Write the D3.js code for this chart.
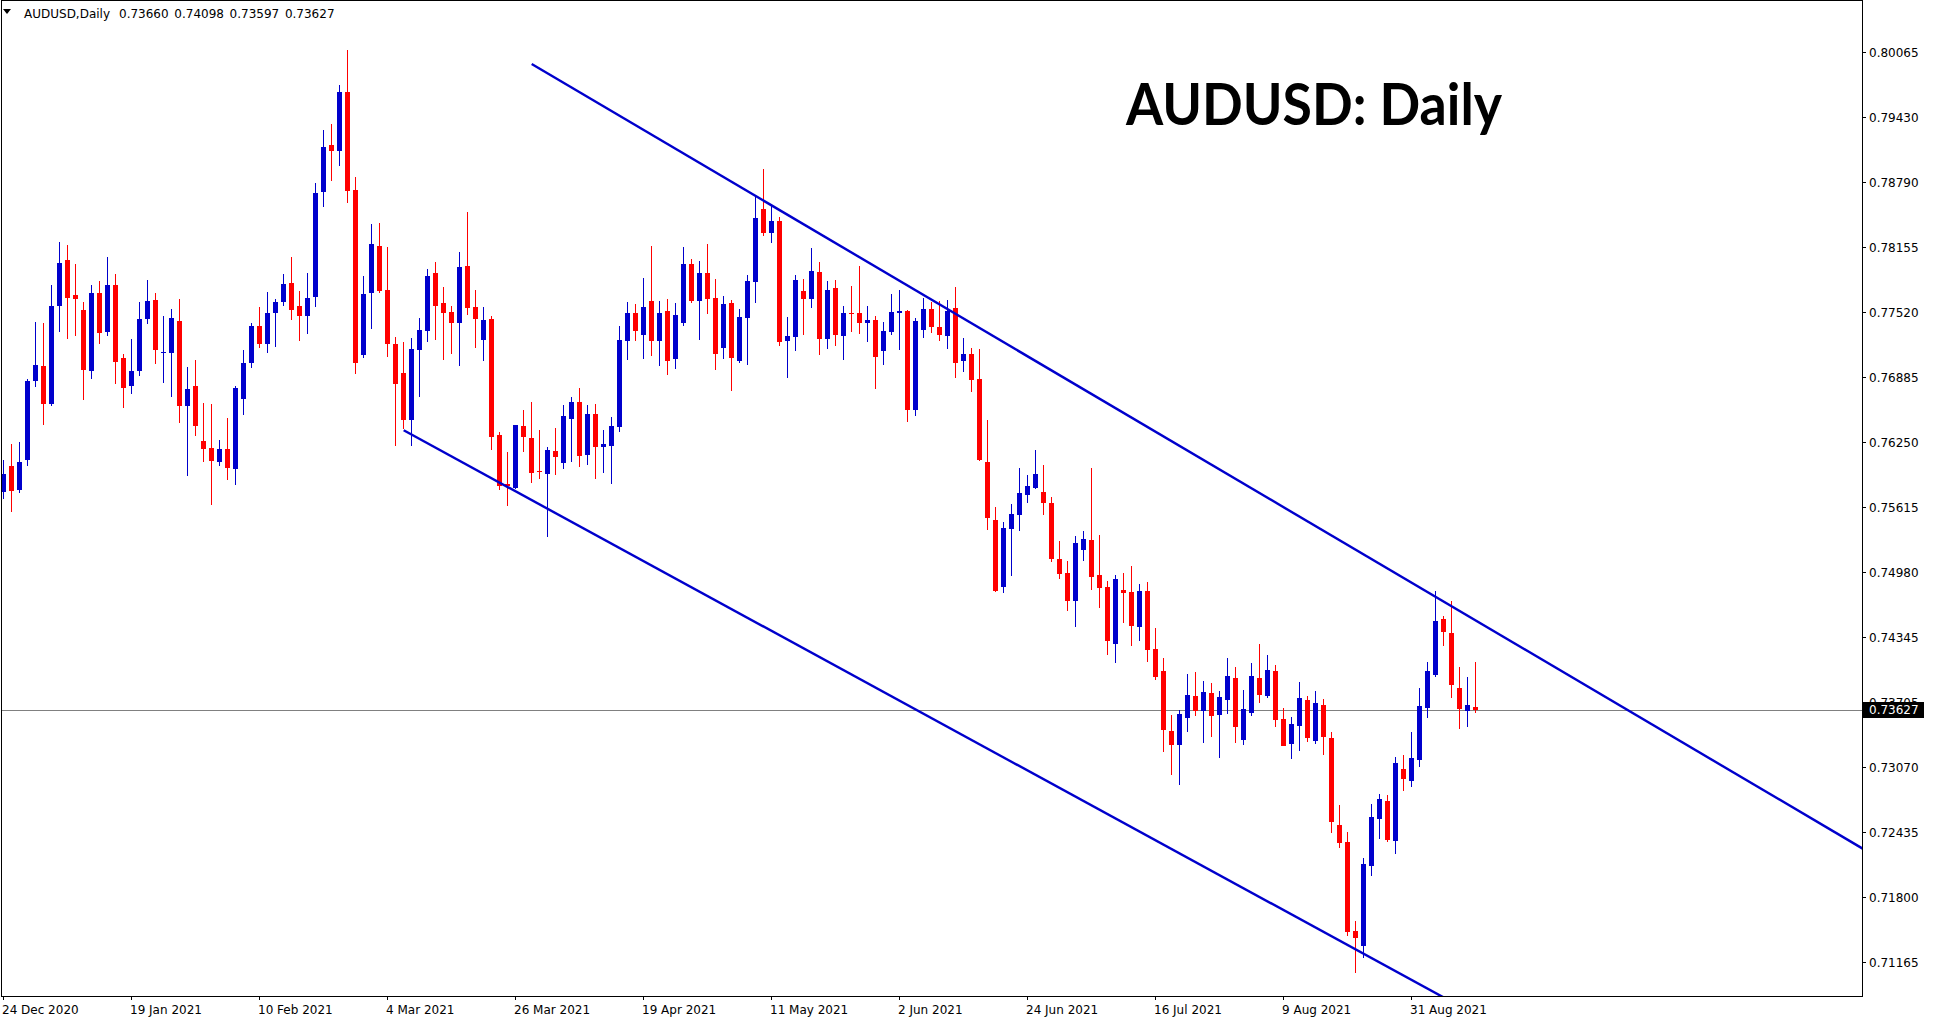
<!DOCTYPE html>
<html><head><meta charset="utf-8">
<script src="https://cdn.jsdelivr.net/npm/d3@7"></script>
<style>html,body{margin:0;padding:0;background:#fff;overflow:hidden}svg{display:block}</style>
</head><body>
<svg id="chart" width="1933" height="1023"></svg>
<script>
// ---------- data ----------
const symbolLabel = "AUDUSD,Daily";
const headerValues = ["0.73660", "0.74098", "0.73597", "0.73627"];
const title = "AUDUSD: Daily";
const currentPrice = 0.73627;

const open = [0.75765,0.76016,0.75784,0.76078,0.76850,0.76994,0.76625,0.77584,0.78030,0.77688,0.77541,0.76948,0.77708,0.77329,0.77786,0.77072,0.76801,0.76948,0.77457,0.77639,0.77124,0.77124,0.77434,0.76606,0.76798,0.76260,0.76192,0.76058,0.76182,0.75990,0.76674,0.77026,0.77385,0.77212,0.77515,0.77623,0.77805,0.77581,0.77486,0.77672,0.78699,0.79155,0.79099,0.79672,0.78715,0.77105,0.77712,0.78167,0.77737,0.77210,0.76927,0.76469,0.77154,0.77335,0.77905,0.77611,0.77520,0.77419,0.77971,0.77569,0.77251,0.77454,0.76319,0.75837,0.75805,0.76406,0.76291,0.75966,0.75942,0.76162,0.76050,0.76479,0.76640,0.76127,0.76525,0.76204,0.76214,0.76399,0.77241,0.77513,0.77300,0.77630,0.77239,0.77532,0.77063,0.77415,0.77992,0.77630,0.77904,0.77660,0.77171,0.77611,0.77043,0.77464,0.77816,0.78530,0.78295,0.78413,0.77239,0.77278,0.77728,0.77650,0.77914,0.77259,0.77757,0.77288,0.77513,0.77513,0.77415,0.77444,0.77141,0.77327,0.77513,0.77532,0.76564,0.77347,0.77552,0.77376,0.77288,0.77562,0.77043,0.77112,0.76867,0.76056,0.75488,0.74833,0.75400,0.75537,0.75733,0.75801,0.75762,0.75655,0.75107,0.74970,0.74696,0.75194,0.75292,0.74950,0.74833,0.74275,0.74803,0.74784,0.74441,0.74793,0.74226,0.74011,0.73424,0.73287,0.73551,0.73767,0.73620,0.73796,0.73581,0.73727,0.73943,0.73336,0.73600,0.73943,0.73767,0.74011,0.73542,0.73297,0.73473,0.73727,0.73326,0.73679,0.73356,0.72505,0.72339,0.71468,0.71322,0.72104,0.72564,0.72740,0.72348,0.73053,0.72935,0.73141,0.73649,0.73972,0.74520,0.74383,0.73845,0.73620,0.73660];
const high = [0.76074,0.76231,0.76250,0.76867,0.77424,0.77414,0.77786,0.78206,0.78177,0.77991,0.77620,0.77786,0.77825,0.78060,0.77893,0.77111,0.77258,0.77620,0.77835,0.77708,0.77483,0.77551,0.77649,0.76984,0.77052,0.76632,0.76622,0.76270,0.76485,0.76798,0.77150,0.77414,0.77571,0.77717,0.77649,0.77893,0.78060,0.77727,0.77903,0.78783,0.79302,0.79361,0.79742,0.80084,0.78841,0.77873,0.78383,0.78394,0.78156,0.77279,0.77227,0.77269,0.77464,0.77943,0.78009,0.77765,0.77580,0.78107,0.78498,0.77737,0.77569,0.77485,0.76350,0.76151,0.76417,0.76563,0.76640,0.76371,0.76204,0.76392,0.76612,0.76689,0.76780,0.76612,0.76623,0.76371,0.76497,0.77384,0.77618,0.77601,0.77859,0.78168,0.77630,0.77650,0.77611,0.78158,0.78041,0.78021,0.78188,0.77845,0.77679,0.77640,0.77552,0.77884,0.78647,0.78921,0.78579,0.78452,0.77474,0.77884,0.77845,0.78149,0.78012,0.77826,0.77836,0.77581,0.77777,0.77973,0.77581,0.77484,0.77425,0.77699,0.77738,0.77542,0.77464,0.77660,0.77620,0.77630,0.77640,0.77767,0.77268,0.77171,0.77161,0.76466,0.75616,0.75469,0.75645,0.75997,0.75929,0.76173,0.76026,0.75713,0.75283,0.75087,0.75331,0.75380,0.75996,0.75341,0.74891,0.74950,0.74970,0.75038,0.74862,0.74881,0.74432,0.74138,0.73581,0.73630,0.73982,0.74001,0.73913,0.73894,0.73815,0.74138,0.74050,0.73825,0.74089,0.74275,0.74168,0.74070,0.73649,0.73561,0.73903,0.73767,0.73815,0.73737,0.73414,0.72701,0.72436,0.71566,0.72182,0.72710,0.72808,0.72798,0.73170,0.73190,0.73414,0.73845,0.74099,0.74793,0.74549,0.74696,0.74050,0.73952,0.74098];
const low = [0.75690,0.75569,0.75755,0.76019,0.76792,0.76420,0.76606,0.77326,0.77261,0.77290,0.76664,0.76870,0.77212,0.77290,0.76821,0.76586,0.76723,0.76899,0.77408,0.77016,0.76831,0.76694,0.76440,0.75921,0.76312,0.76058,0.75638,0.76019,0.75882,0.75833,0.76518,0.76977,0.77173,0.77124,0.77183,0.77584,0.77447,0.77241,0.77310,0.77574,0.78552,0.78802,0.78952,0.78593,0.76916,0.77077,0.77360,0.77709,0.77084,0.76214,0.76375,0.76214,0.76686,0.77230,0.77251,0.77056,0.77115,0.76996,0.77496,0.77174,0.77045,0.76175,0.75784,0.75627,0.75795,0.76155,0.75854,0.75886,0.75320,0.75931,0.75983,0.76057,0.76008,0.76029,0.75886,0.75952,0.75844,0.76350,0.77056,0.77241,0.77066,0.77096,0.76998,0.76910,0.76965,0.77389,0.77611,0.77249,0.77503,0.76955,0.77063,0.76753,0.77024,0.77004,0.77611,0.78266,0.78197,0.77190,0.76877,0.77141,0.77298,0.77562,0.77102,0.77161,0.77190,0.77053,0.77327,0.77308,0.77229,0.76770,0.77004,0.77298,0.77151,0.76447,0.76506,0.77268,0.77317,0.77239,0.77161,0.76877,0.76936,0.76740,0.76065,0.75391,0.74784,0.74775,0.74941,0.75381,0.75655,0.75792,0.75537,0.75078,0.74911,0.74598,0.74441,0.75087,0.74803,0.74627,0.74168,0.74089,0.74480,0.74256,0.74304,0.74099,0.73923,0.73219,0.72994,0.72896,0.73414,0.73571,0.73307,0.73366,0.73160,0.73590,0.73307,0.73287,0.73571,0.73698,0.73747,0.73465,0.73278,0.73150,0.73229,0.73317,0.73297,0.73190,0.72427,0.72280,0.71419,0.71058,0.71204,0.72006,0.72368,0.72339,0.72221,0.72837,0.72876,0.73072,0.73551,0.73952,0.74256,0.73747,0.73444,0.73463,0.73597];
const close = [0.75938,0.75774,0.76055,0.76847,0.77004,0.76625,0.77581,0.78001,0.77662,0.77652,0.76958,0.77708,0.77320,0.77786,0.77036,0.76782,0.76945,0.77453,0.77629,0.77153,0.77131,0.77463,0.76606,0.76769,0.76410,0.76185,0.76068,0.76182,0.75999,0.76779,0.77023,0.77385,0.77212,0.77512,0.77620,0.77796,0.77545,0.77486,0.77659,0.78686,0.79136,0.79099,0.79672,0.78708,0.77028,0.77698,0.78188,0.77726,0.77213,0.76822,0.76469,0.77161,0.77346,0.77873,0.77583,0.77517,0.77419,0.77960,0.77566,0.77457,0.77443,0.76301,0.75823,0.75816,0.76417,0.76301,0.75952,0.75959,0.76172,0.76106,0.76504,0.76640,0.76116,0.76525,0.76200,0.76231,0.76406,0.77248,0.77513,0.77339,0.77569,0.77239,0.77513,0.77043,0.77493,0.77992,0.77630,0.77904,0.77650,0.77112,0.77601,0.77073,0.77474,0.77826,0.78442,0.78295,0.78413,0.77229,0.77288,0.77836,0.77650,0.77924,0.77259,0.77738,0.77298,0.77513,0.77506,0.77415,0.77444,0.77083,0.77337,0.77523,0.77532,0.76564,0.77435,0.77552,0.77376,0.77298,0.77532,0.77024,0.77112,0.76858,0.76075,0.75508,0.74794,0.75410,0.75547,0.75753,0.75821,0.75938,0.75655,0.75107,0.74960,0.74696,0.75263,0.75302,0.74930,0.74823,0.74304,0.74911,0.74774,0.74451,0.74793,0.74216,0.73952,0.73434,0.73287,0.73590,0.73776,0.73620,0.73806,0.73571,0.73757,0.73962,0.73463,0.73639,0.73962,0.73776,0.74021,0.73532,0.73278,0.73493,0.73747,0.73356,0.73698,0.73366,0.72534,0.72329,0.71458,0.71400,0.72124,0.72583,0.72759,0.72358,0.73111,0.72955,0.73160,0.73669,0.74011,0.74500,0.74392,0.73874,0.73639,0.73679,0.73627];

const priceTicks = [0.80065,0.79430,0.78790,0.78155,0.77520,0.76885,0.76250,0.75615,0.74980,0.74345,0.73705,0.73070,0.72435,0.71800,0.71165];
const dateTickBars = [0,16,32,48,64,80,96,112,128,144,160,176];
const dateTickLabels = ["24 Dec 2020","19 Jan 2021","10 Feb 2021","4 Mar 2021","26 Mar 2021","19 Apr 2021","11 May 2021","2 Jun 2021","24 Jun 2021","16 Jul 2021","9 Aug 2021","31 Aug 2021"];

// channel trend lines: [bar index, price] anchors (rays to the right)
const upperChannel = [[66, 0.79948],[160, 0.75612]];
const lowerChannel = [[50, 0.76365],[170, 0.71245]];

// ---------- layout ----------
const BULL = "#0000cc", BEAR = "#ff0000", TEXT = "#000";
const L = 2, R = 1862, T = 1, B = 996;
const svg = d3.select("#chart");
const n = open.length;
const x = d3.scaleLinear().domain([0, n - 1]).range([3.7, 3.7 + 8 * (n - 1)]);
const y = d3.scaleLinear().domain([0.71165, 0.80065]).range([962, 52]);

svg.append("rect").attr("width",1933).attr("height",1023).attr("fill","#fff");
svg.append("defs").append("clipPath").attr("id","plotclip")
  .append("rect").attr("x",L).attr("y",T).attr("width",R-L).attr("height",B-T);

const plot = svg.append("g").attr("clip-path","url(#plotclip)");

// current price line
plot.append("line").attr("x1",L).attr("x2",R)
  .attr("y1",Math.round(y(currentPrice))+0.5).attr("y2",Math.round(y(currentPrice))+0.5)
  .attr("stroke","#808080").attr("stroke-width",1).attr("shape-rendering","crispEdges");

// candles
const bars = d3.range(n).map(i => ({i, o:open[i], h:high[i], l:low[i], c:close[i]}));
const cg = plot.append("g").attr("shape-rendering","crispEdges");
const cand = cg.selectAll("g").data(bars).join("g");
cand.append("rect")
  .attr("x", d => Math.floor(x(d.i)))
  .attr("width", 1)
  .attr("y", d => Math.round(y(d.h)))
  .attr("height", d => Math.max(1, Math.round(y(d.l)) - Math.round(y(d.h))))
  .attr("fill", d => d.c > d.o ? BULL : BEAR);
cand.append("rect")
  .attr("x", d => Math.floor(x(d.i)) - 2)
  .attr("width", 5)
  .attr("y", d => Math.round(y(Math.max(d.o, d.c))))
  .attr("height", d => Math.max(1, Math.round(y(Math.min(d.o, d.c))) - Math.round(y(Math.max(d.o, d.c)))))
  .attr("fill", d => d.c > d.o ? BULL : BEAR);

// channel lines
function rayPath(a){
  const [p0, p1] = a;
  const x0 = x(p0[0]), y0 = y(p0[1]), x1 = x(p1[0]), y1 = y(p1[1]);
  const slope = (y1 - y0) / (x1 - x0);
  const xe = R + 10;
  return [[x0, y0], [xe, y0 + slope * (xe - x0)]];
}
[upperChannel, lowerChannel].forEach(ch => {
  plot.append("path").attr("d", d3.line()(rayPath(ch)))
    .attr("stroke", BULL).attr("stroke-width", 2.4).attr("fill","none");
});

// frame
svg.append("rect").attr("x",L-0.5).attr("y",T-0.5).attr("width",R-L+1).attr("height",B-T+1)
  .attr("fill","none").attr("stroke","#000").attr("stroke-width",1).attr("shape-rendering","crispEdges");

// price axis
const ya = svg.append("g").attr("font-family","DejaVu Sans, sans-serif").attr("font-size",12).attr("fill",TEXT);
priceTicks.forEach(v => {
  const yy = Math.round(y(v)) + 0.5;
  ya.append("line").attr("x1",R).attr("x2",R+4).attr("y1",yy).attr("y2",yy).attr("stroke","#000").attr("shape-rendering","crispEdges");
  ya.append("text").attr("x",R+7).attr("y",yy).attr("dy","0.36em").text(v.toFixed(5));
});
// current price label
const cpy = Math.round(y(currentPrice));
svg.append("rect").attr("x",R+1).attr("y",cpy-8).attr("width",61).attr("height",16).attr("fill","#000");
svg.append("text").attr("x",R+7).attr("y",cpy).attr("dy","0.36em").attr("font-family","DejaVu Sans, sans-serif")
  .attr("font-size",12).attr("fill","#fff").text(currentPrice.toFixed(5));

// date axis
const xa = svg.append("g").attr("font-family","DejaVu Sans, sans-serif").attr("font-size",12).attr("fill",TEXT);
dateTickBars.forEach((b, k) => {
  const xx = Math.floor(x(b)) + 0.5;
  xa.append("line").attr("x1",xx).attr("x2",xx).attr("y1",B).attr("y2",B+4).attr("stroke","#000").attr("shape-rendering","crispEdges");
  xa.append("text").attr("x",xx-1.5).attr("y",1014).text(dateTickLabels[k]);
});

// header
svg.append("path").attr("d","M3,9 L11,9 L7,14 Z").attr("fill","#000");
const hdr = svg.append("g").attr("font-family","DejaVu Sans, sans-serif").attr("font-size",12).attr("fill",TEXT);
hdr.append("text").attr("x",24).attr("y",18).text(symbolLabel);
headerValues.forEach((v, k) => hdr.append("text").attr("x",119 + k*55.3).attr("y",18).text(v));

// title
svg.append("text").attr("x",1126).attr("y",125).attr("font-family","Lato, 'Open Sans', sans-serif")
  .attr("font-weight","bold").attr("font-size",57).attr("fill","#000")
  .attr("textLength",376).attr("lengthAdjust","spacingAndGlyphs").text(title);
</script>
</body></html>
